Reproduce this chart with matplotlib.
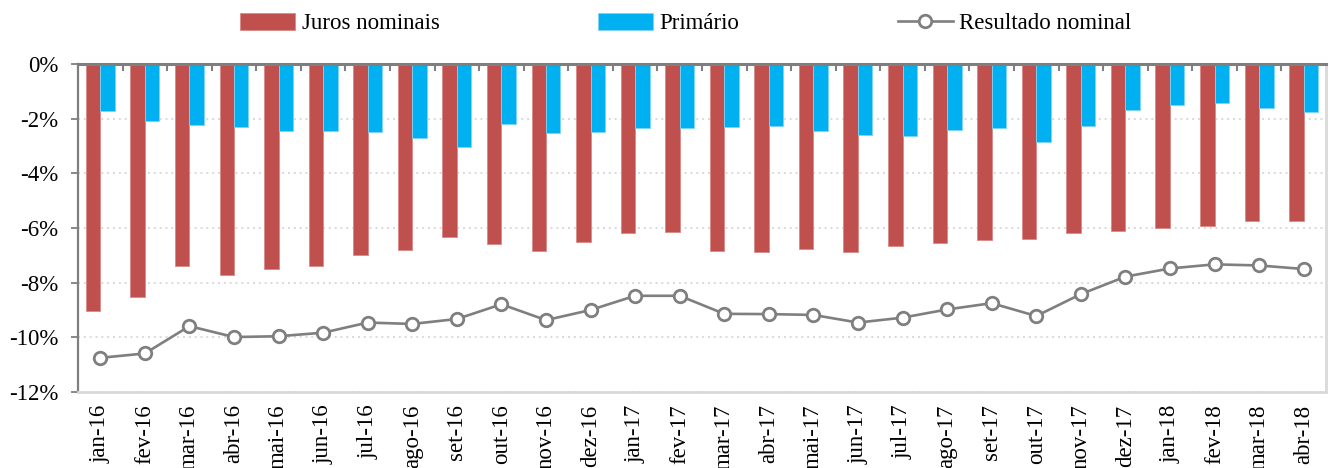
import matplotlib
matplotlib.use("Agg")
import matplotlib.pyplot as plt
import numpy as np

# Monthly fiscal results, % of GDP (12-month accumulated)
months = ["jan-16", "fev-16", "mar-16", "abr-16", "mai-16", "jun-16", "jul-16",
          "ago-16", "set-16", "out-16", "nov-16", "dez-16", "jan-17", "fev-17",
          "mar-17", "abr-17", "mai-17", "jun-17", "jul-17", "ago-17", "set-17",
          "out-17", "nov-17", "dez-17", "jan-18", "fev-18", "mar-18", "abr-18"]

juros_nominais = [-9.03, -8.54, -7.38, -7.71, -7.50, -7.38, -6.99, -6.81, -6.32,
                  -6.60, -6.85, -6.52, -6.17, -6.16, -6.83, -6.89, -6.76, -6.88,
                  -6.67, -6.56, -6.43, -6.39, -6.17, -6.12, -5.99, -5.93, -5.74,
                  -5.74]

primario = [-1.72, -2.07, -2.24, -2.29, -2.46, -2.46, -2.50, -2.72, -3.04,
            -2.21, -2.51, -2.48, -2.33, -2.33, -2.32, -2.27, -2.45, -2.60,
            -2.63, -2.43, -2.33, -2.87, -2.27, -1.67, -1.51, -1.41, -1.62,
            -1.77]

resultado_nominal = [-10.75, -10.59, -9.59, -9.99, -9.96, -9.83, -9.46, -9.51,
                     -9.33, -8.79, -9.37, -9.00, -8.48, -8.48, -9.14, -9.15,
                     -9.18, -9.46, -9.28, -8.98, -8.75, -9.22, -8.42, -7.78,
                     -7.48, -7.33, -7.37, -7.50]

y_ticks = [0, -2, -4, -6, -8, -10, -12]

plt.rcParams["font.family"] = ["Liberation Serif", "DejaVu Serif"]

RED = "#C0504D"
BLUE = "#00B0F0"
GRAY = "#7F7F7F"
LIGHT = "#D9D9D9"

fig = plt.figure(figsize=(13.29, 4.68), dpi=100)
ax = fig.add_axes([0.0587, 0.1624, 0.9390, 0.7008])

x = np.arange(len(months))
w = 0.325
h_juros = ax.bar(x - w / 2, juros_nominais, width=w, color=RED,
                 edgecolor="#D98A88", linewidth=0.6, label="Juros nominais",
                 zorder=2)
h_prim = ax.bar(x + w / 2, primario, width=w, color=BLUE, edgecolor="#7FD4F4",
                linewidth=0.6, label="Primário", zorder=2)
h_res, = ax.plot(x, resultado_nominal, color=GRAY, lw=1.9, marker="o", ms=9,
                 mfc="white", mec=GRAY, mew=2.0, label="Resultado nominal",
                 zorder=3)

ax.set_xlim(-0.5, len(months) - 0.5)
ax.set_ylim(-12, 0)

ax.set_yticks(y_ticks)
ax.set_yticklabels([f"{v}%" for v in y_ticks], fontsize=16.5)
ax.yaxis.grid(True, color=LIGHT, linestyle=(0, (1, 2)), linewidth=1.4, zorder=0)
ax.set_axisbelow(True)

ax.set_xticks(x)
ax.set_xticklabels(months, rotation=90, fontsize=16.5, va="top")
ax.tick_params(axis="x", which="major", length=0, pad=9)
ax.set_xticks(np.arange(0.5, len(months) - 0.5, 1), minor=True)
ax.tick_params(axis="x", which="minor", bottom=False, top=True,
               direction="in", length=5, width=1.5, color=GRAY)
ax.tick_params(axis="y", which="major", length=5, width=1.3, color=GRAY, pad=9)

ax.spines["top"].set_color(GRAY)
ax.spines["top"].set_linewidth(2.2)
ax.spines["left"].set_color(GRAY)
ax.spines["left"].set_linewidth(1.6)
ax.spines["bottom"].set_color(LIGHT)
ax.spines["bottom"].set_linewidth(2)
ax.spines["right"].set_color(LIGHT)
ax.spines["right"].set_linewidth(2)
ax.spines["top"].set_zorder(4)

fig.legend([h_juros, h_prim, h_res],
           ["Juros nominais", "Primário", "Resultado nominal"],
           loc="center", bbox_to_anchor=(0.516, 0.950), ncol=3, frameon=False,
           fontsize=16.5, handlelength=2.4, handleheight=0.8, handletextpad=0.3,
           columnspacing=6.9)

fig.savefig("out.png", dpi=100)
